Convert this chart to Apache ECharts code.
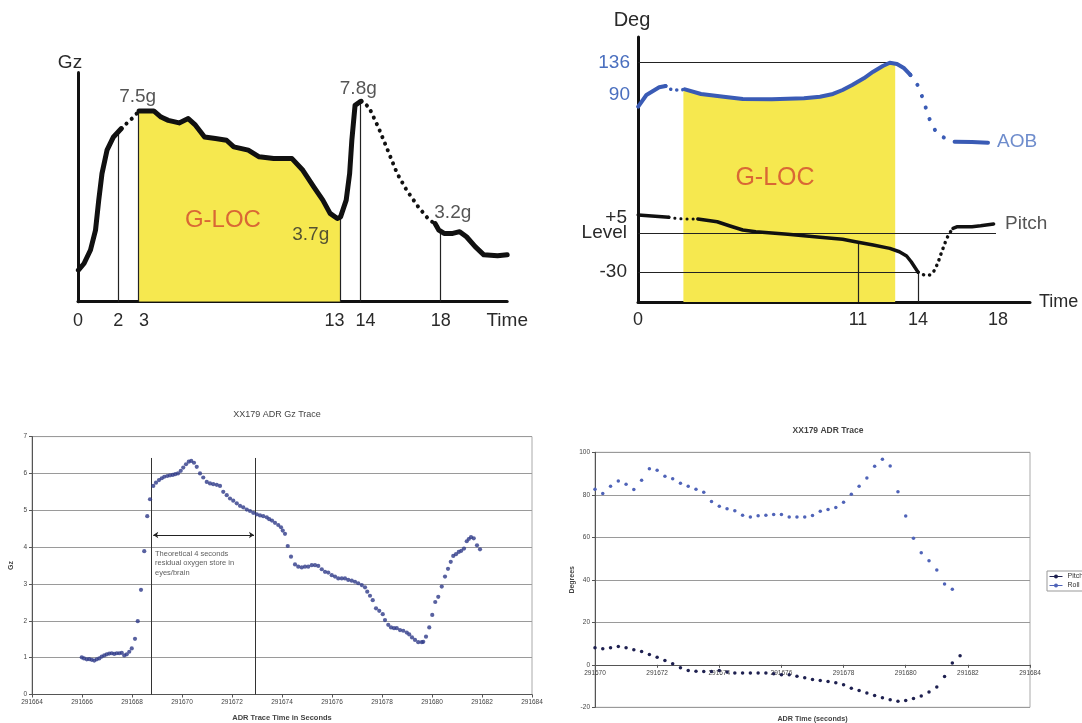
<!DOCTYPE html>
<html><head><meta charset="utf-8"><title>G-LOC traces</title>
<script src="https://cdn.jsdelivr.net/npm/echarts@6.0.0/dist/echarts.min.js"></script>
<style>html,body{margin:0;padding:0;background:#fff;}#chart{width:1082px;height:723px;}</style>
</head><body><div id="chart"></div>
<script>
// ================= DATA =================
// Panel 1 : schematic Gz vs time
const p1Ticks = [0, 2, 3, 13, 14, 18];
const gzRise = [[0.02,1.24],[0.30,1.5],[0.62,2.03],[0.87,2.81],[1.03,3.99],[1.19,5.03],[1.44,5.95],[1.76,6.47],[2.15,6.8]];
const gzGap1 = [[2.15,6.8],[2.44,7.02],[2.73,7.23],[3.03,7.49]];
const gzMain = [[3.03,7.49],[3.76,7.49],[4.12,7.25],[4.48,7.12],[5.02,7.02],[5.47,7.19],[5.83,6.93],[6.28,6.47],[6.82,6.41],[7.37,6.34],[7.73,6.08],[8.45,5.95],[8.99,5.69],[9.71,5.62],[10.62,5.62],[11.16,5.16],[11.7,4.51],[12.15,3.99],[12.51,3.47],[12.87,3.27],[13.03,3.33],[13.31,3.99],[13.48,5.03],[13.59,6.34],[13.75,7.71],[13.98,7.84],[14.05,7.87]];
const gzGap2 = [[14.05,7.87],[14.43,7.65],[14.9,6.86],[15.37,5.95],[15.84,5.03],[16.31,4.38],[16.88,3.73],[17.44,3.2],[17.72,3.07]];
const gzTail = [[17.72,3.07],[17.91,2.81],[18.17,2.68],[18.6,2.68],[18.94,2.75],[19.28,2.55],[19.71,2.16],[20.14,1.84],[20.82,1.8],[21.3,1.84]];
const p1Marks = [[2,6.65],[3,7.49],[13,3.33],[14,7.85],[18,2.75]];
const p1Notes = [['7.5g',2.96,8.04],['7.8g',13.91,8.37],['3.7g',11.55,2.62],['3.2g',18.6,3.48]];
const p1Gloc = [['G-LOC',7.19,3.2]];

// Panel 2 : schematic AOB / pitch vs time
const p2Ticks = [0, 11, 14, 18];
const aobTicks = [90, 136];
const pitchTicks = [-30, 0];          // 0 is shown as "+5 / Level"
const aobStart = [[0.01,72.8],[0.42,89.6],[1.06,100.7],[1.38,102.6]];
const aobGap1 = [[1.38,102.6],[1.62,97.8],[1.87,96.8],[2.11,96.8],[2.35,97.8]];
const aobMain = [[2.35,97.8],[3.15,91.1],[4.28,87.2],[5.24,83.9],[6.69,83.4],[8.3,84.9],[9.1,87.2],[9.75,91.1],[10.23,96.8],[10.71,104],[11.29,113.6],[11.76,123.1],[12.24,131.3],[12.59,136],[12.95,134.2],[13.31,128],[13.62,118.4]];
const aobGap2 = [[13.62,118.4],[14.01,102.6],[14.3,80],[14.52,58.4],[14.93,34.6],[15.51,24.9],[15.83,22.5]];
const aobTail = [[15.83,22.5],[16.7,22],[17.5,21]];
const p2FillEdges = [[2.27,97.8],[12.86,134.5]];
const pitchStart = [[0.01,14],[1.54,12.2]];
const pitchGap1 = [[1.54,12.2],[1.87,11.4],[2.27,10.9],[2.67,10.9],[2.99,10.9]];
const pitchMain = [[2.99,10.9],[3.96,8.8],[4.6,5.5],[5.24,2.4],[5.89,1.1],[7.49,-0.9],[9.1,-3.2],[10.23,-4.7],[10.87,-6.6],[11.76,-9.1],[12.59,-11.7],[13.07,-14.3],[13.43,-17.6],[13.66,-22],[14.0,-30]];
const pitchGap2 = [[14.0,-30],[14.3,-32.2],[14.6,-32.2],[14.81,-28.9],[14.99,-23.2],[15.13,-16.8],[15.27,-10.9],[15.42,-4.7],[15.57,-0.1],[15.75,3.7]];
const pitchTail = [[15.75,3.7],[15.97,5],[16.7,5],[17.13,5.7],[17.78,7]];
const p2AobRefs = [[[0,136],[12.59,136]]];
const p2PitchRefs = [[[0,0],[17.9,0]],[[0,-30],[14,-30]],[[11,-53],[11,-7.2]],[[14,-53],[14,-30]]];
const p2AobNote = [['AOB',17.95,22]];
const p2PitchNote = [['Pitch',18.35,7.05]];
const p2Gloc = [['G-LOC',6.85,42.5]];

// Panel 3 : XX179 ADR Gz Trace (time s, Gz)
const gzTrace = [[291665.99,1.01],[291666.08,0.98],[291666.19,0.955],[291666.29,0.96],[291666.39,0.94],[291666.49,0.92],[291666.59,0.955],[291666.69,0.98],[291666.79,1.03],[291666.89,1.06],[291666.99,1.09],[291667.09,1.11],[291667.19,1.12],[291667.29,1.10],[291667.39,1.12],[291667.49,1.12],[291667.59,1.13],[291667.69,1.06],[291667.79,1.09],[291667.89,1.16],[291667.99,1.25],[291668.12,1.51],[291668.23,1.99],[291668.36,2.84],[291668.49,3.89],[291668.61,4.84],[291668.72,5.3],
 [291668.85,5.66],[291668.96,5.75],[291669.08,5.82],[291669.19,5.87],[291669.29,5.91],[291669.41,5.93],[291669.52,5.95],[291669.63,5.96],[291669.73,5.98],[291669.84,6.0],[291669.95,6.07],[291670.05,6.16],[291670.16,6.25],[291670.27,6.32],[291670.37,6.34],[291670.48,6.29],[291670.59,6.18],[291670.72,6.0],[291670.85,5.89],[291670.99,5.77],[291671.12,5.73],[291671.25,5.71],[291671.39,5.69],[291671.52,5.66],[291671.65,5.5],[291671.79,5.41],[291671.92,5.32],[291672.05,5.26],[291672.19,5.19],[291672.32,5.12],[291672.45,5.08],[291672.59,5.02],[291672.72,4.98],[291672.85,4.93],[291672.99,4.89],
 [291673.12,4.86],[291673.25,4.84],[291673.39,4.81],[291673.49,4.76],[291673.6,4.72],[291673.72,4.66],[291673.85,4.6],[291673.96,4.54],[291674.03,4.45],[291674.12,4.36],[291674.23,4.03],[291674.36,3.74],[291674.52,3.53],[291674.65,3.47],[291674.79,3.45],[291674.92,3.47],[291675.05,3.47],[291675.19,3.51],[291675.32,3.51],[291675.45,3.49],[291675.59,3.4],[291675.72,3.33],[291675.85,3.31],[291675.99,3.24],[291676.12,3.2],[291676.25,3.15],[291676.39,3.15],[291676.52,3.15],[291676.65,3.11],[291676.79,3.09],[291676.92,3.06],[291677.05,3.02],[291677.19,2.97],[291677.32,2.91],[291677.41,2.79],[291677.52,2.68],
 [291677.63,2.56],[291677.76,2.34],[291677.89,2.27],[291678.03,2.18],[291678.12,2.02],[291678.25,1.89],[291678.36,1.82],[291678.48,1.8],[291678.59,1.8],[291678.72,1.75],[291678.85,1.73],[291678.99,1.68],[291679.09,1.63],[291679.2,1.55],[291679.32,1.48],[291679.45,1.42],[291679.59,1.42],[291679.65,1.43],[291679.76,1.57],[291679.89,1.82],[291680.01,2.16],[291680.13,2.51],[291680.25,2.65],[291680.39,2.93],[291680.52,3.2],[291680.64,3.41],[291680.75,3.6],[291680.85,3.76],[291680.96,3.81],[291681.07,3.87],[291681.17,3.9],[291681.28,3.96],[291681.39,4.16],[291681.47,4.22],[291681.56,4.27],[291681.67,4.24],[291681.8,4.05],[291681.92,3.94]];
const blWindow = [291668.75, 291672.92, 6.42];
const blArrow = [291668.85, 291672.88, 4.33];
const blNote = [['Theoretical 4 seconds\nresidual oxygen store in\neyes/brain', 291668.92, 3.94]];

// Panel 4 : XX179 ADR Trace (pitch & roll, degrees)
const adrTime = [291670,291670.25,291670.5,291670.75,291671,291671.25,291671.5,291671.75,291672,291672.25,291672.5,291672.75,291673,291673.25,291673.5,291673.75,291674,291674.25,291674.5,291674.75,291675,291675.25,291675.5,291675.75,291676,291676.25,291676.5,291676.75,291677,291677.25,291677.5,291677.75,291678,291678.25,291678.5,291678.75,291679,291679.25,291679.5,291679.75,291680,291680.25,291680.5,291680.75,291681,291681.25,291681.5,291681.75];
const pitchDeg = [8.0,7.5,8.0,8.6,8.0,7.1,6.3,4.9,3.6,2.0,0.5,-1.4,-2.7,-3.0,-3.1,-3.1,-2.7,-3.4,-3.8,-3.9,-3.9,-3.9,-3.9,-4.2,-4.7,-4.7,-5.4,-6.1,-6.9,-7.4,-7.8,-8.5,-9.4,-11.0,-12.1,-13.3,-14.4,-15.5,-16.4,-17.1,-16.8,-15.9,-14.7,-12.8,-10.5,-5.5,0.8,4.3];
const rollDeg = [82.6,80.6,84,86.5,85,82.5,86.9,92.3,91.5,88.7,87.5,85.4,84,82.6,81.2,76.8,74.6,73.4,72.5,70.4,69.6,70.1,70.4,70.7,70.7,69.6,69.6,69.6,70.3,72.3,73.1,74,76.5,80.3,84,87.9,93.4,96.7,93.6,81.4,70,59.6,52.7,49,44.6,38,35.5];

// ================= CHART =================
const FONT = '"Liberation Sans", Arial, Helvetica, sans-serif';
const INK = '#111', TXT = '#2a2a2a', YEL = '#f6e84f', RED = '#d2462e', BLUE = '#3a5bb5', BLUET = '#4a6fbf';
const DOTS = [0.1, 7], SPARSE = [0.1, 12];

function path(data, xi, yi, color, width, dash) {
  return {type:'line', xAxisIndex:xi, yAxisIndex:yi, data:data, symbol:'none', silent:true, animation:false, z:5,
    lineStyle:{color:color, width:width, type:dash || 'solid', cap:'round', join:'round'}};
}
function area(data, xi, yi) {
  return {type:'line', xAxisIndex:xi, yAxisIndex:yi, data:data, symbol:'none', silent:true, animation:false, z:1,
    lineStyle:{width:0, opacity:0}, areaStyle:{color:YEL, opacity:1, origin:'start'}};
}
function rules(segs, xi, yi, color, width, extra) {
  return Object.assign({type:'lines', coordinateSystem:'cartesian2d', xAxisIndex:xi, yAxisIndex:yi, silent:true,
    animation:false, z:3, lineStyle:{color:color, width:width, opacity:1}, data:segs.map(s => ({coords:s}))}, extra || {});
}
function notes(items, xi, yi, style) {
  return {type:'scatter', xAxisIndex:xi, yAxisIndex:yi, symbolSize:0, silent:true, animation:false, z:10,
    data:items.map(n => ({value:[n[1], n[2]], name:n[0]})),
    label:Object.assign({show:true, formatter:p => p.name, position:[0,0], fontFamily:FONT}, style)};
}
const big = {fontSize:19, color:TXT, align:'center', verticalAlign:'middle'};

const gzFill = gzMain.filter(p => p[0] <= 13.03);
const aobFill = [p2FillEdges[0]].concat(aobMain.filter(p => p[0] > p2FillEdges[0][0] && p[0] < p2FillEdges[1][0]), [p2FillEdges[1]]);
const pitchSeries = adrTime.map((t, i) => [t, pitchDeg[i]]);
const rollSeries = rollDeg.map((v, i) => [adrTime[i], v]);

const small = {fontSize:6.5, color:'#444', fontFamily:FONT};
const thickAxis = {show:true, onZero:false, lineStyle:{color:INK, width:3}};
const tickRich = {fontSize:18, color:TXT, fontFamily:FONT};
// height of the bottom-right plot and its y range, used to sit its x axis on the 0 degree line
const BR_H = 255, BR_MIN = -20, BR_MAX = 100;

const option = {
  animation:false,
  backgroundColor:'#fff',
  textStyle:{fontFamily:FONT},
  title:[
    {text:'XX179 ADR Gz Trace', left:272, top:405, textAlign:'center', textStyle:{fontSize:9, fontWeight:'normal', color:'#444', fontFamily:FONT}},
    {text:'XX179 ADR Trace', left:823, top:421, textAlign:'center', textStyle:{fontSize:8.5, fontWeight:'bold', color:'#444', fontFamily:FONT}}
  ],
  legend:{data:['Pitch','Roll'], orient:'vertical', left:1047, top:571, itemWidth:13, itemHeight:5, itemGap:2,
    padding:[2,2,2,2], borderColor:'#999', borderWidth:1, selectedMode:false,
    textStyle:{fontSize:7, color:'#333', fontFamily:FONT}, lineStyle:{opacity:1, width:1}},
  grid:[
    {left:78, top:72.5, width:429.2, height:229.2, outerBoundsMode:'none'},
    {left:638, top:37, width:392, height:265, outerBoundsMode:'none'},
    {left:32, top:436.6, width:500, height:257.9, show:true, borderColor:'#aaa', borderWidth:1, outerBoundsMode:'none'},
    {left:595, top:452.3, width:435, height:BR_H, show:true, borderColor:'#aaa', borderWidth:1, outerBoundsMode:'none'}
  ],
  xAxis:[
    {gridIndex:0, type:'value', min:0, max:21.3, axisLine:thickAxis, axisTick:{show:false}, splitLine:{show:false},
      axisLabel:{customValues:p1Ticks, fontSize:18, color:TXT, margin:10, fontFamily:FONT, hideOverlap:false,
        formatter:v => v === 3 ? '{r|3}' : v === 13 ? '{l|13}' : v === 14 ? '{r|14}' : String(v),
        rich:{r:Object.assign({padding:[0,0,0,11]}, tickRich), l:Object.assign({padding:[0,11,0,0]}, tickRich)}},
      name:'Time', nameLocation:'end', nameGap:0,
      nameTextStyle:{fontSize:19, color:TXT, align:'center', verticalAlign:'top', padding:[10,0,0,0], fontFamily:FONT}},
    {gridIndex:1, type:'value', min:0, max:19.6, axisLine:thickAxis, axisTick:{show:false}, splitLine:{show:false},
      axisLabel:{customValues:p2Ticks, fontSize:18, color:TXT, margin:9, fontFamily:FONT, hideOverlap:false},
      name:'Time', nameLocation:'end', nameGap:9,
      nameTextStyle:{fontSize:18, color:TXT, fontFamily:FONT}},
    {gridIndex:2, type:'value', min:291664, max:291684, interval:2,
      axisLine:{onZero:false, lineStyle:{color:'#555', width:1}}, axisTick:{show:true, length:3, lineStyle:{color:'#555'}},
      splitLine:{show:false}, axisLabel:Object.assign({margin:4, formatter:v => String(v)}, small),
      name:'ADR Trace Time in Seconds', nameLocation:'middle', nameGap:19,
      nameTextStyle:{fontSize:7.5, fontWeight:'bold', color:'#444', fontFamily:FONT}},
    {gridIndex:3, type:'value', min:291670, max:291684, interval:2, position:'bottom',
      offset:-BR_H * (0 - BR_MIN) / (BR_MAX - BR_MIN),
      axisLine:{onZero:false, lineStyle:{color:'#555', width:1}}, axisTick:{show:true, length:3, lineStyle:{color:'#555'}},
      splitLine:{show:false}, axisLabel:Object.assign({margin:5, formatter:v => String(v)}, small),
      name:'ADR Time (seconds)', nameLocation:'middle', nameGap:51, nameMoveOverlap:false,
      nameTextStyle:{fontSize:7.2, fontWeight:'bold', color:'#444', fontFamily:FONT}}
  ],
  yAxis:[
    {gridIndex:0, type:'value', min:0, max:9, axisLine:thickAxis, axisTick:{show:false}, splitLine:{show:false}, axisLabel:{show:false},
      name:'Gz', nameLocation:'end', nameGap:0,
      nameTextStyle:{fontSize:19, color:TXT, align:'center', padding:[0,16,0,0], fontFamily:FONT}},
    {gridIndex:1, type:'value', position:'left', min:-208, max:173, axisLine:thickAxis, axisTick:{show:false}, splitLine:{show:false},
      axisLabel:{customValues:aobTicks, fontSize:19, color:BLUET, margin:8, fontFamily:FONT, hideOverlap:false},
      name:'Deg', nameLocation:'end', nameGap:7,
      nameTextStyle:{fontSize:20, color:TXT, align:'center', padding:[0,12,0,0], fontFamily:FONT}},
    {gridIndex:1, type:'value', position:'left', offset:0, min:-53, max:151, axisLine:{show:false}, axisTick:{show:false}, splitLine:{show:false},
      axisLabel:{customValues:pitchTicks, fontSize:19, color:TXT, margin:11, fontFamily:FONT, hideOverlap:false,
        formatter:v => v === 0 ? '{a|+5}\n{a|Level}\n{a| }' : String(v),
        rich:{a:{fontSize:19, lineHeight:15.5, color:TXT, fontFamily:FONT, align:'right'}}}},
    {gridIndex:2, type:'value', min:0, max:7, interval:1,
      axisLine:{show:true, lineStyle:{color:'#555', width:1}}, axisTick:{show:true, length:3, lineStyle:{color:'#555'}},
      splitLine:{show:true, lineStyle:{color:'#9a9a9a', width:1}}, axisLabel:Object.assign({margin:5}, small),
      name:'Gz', nameLocation:'middle', nameGap:17,
      nameTextStyle:{fontSize:7, fontWeight:'bold', color:'#444', fontFamily:FONT}},
    {gridIndex:3, type:'value', min:BR_MIN, max:BR_MAX, interval:20,
      axisLine:{show:true, lineStyle:{color:'#555', width:1}}, axisTick:{show:true, length:3, lineStyle:{color:'#555'}},
      splitLine:{show:true, lineStyle:{color:'#9a9a9a', width:1}}, axisLabel:Object.assign({margin:5}, small),
      name:'Degrees', nameLocation:'middle', nameGap:19,
      nameTextStyle:{fontSize:7, fontWeight:'bold', color:'#444', fontFamily:FONT}}
  ],
  series:[
    // panel 1
    area(gzFill, 0, 0),
    rules(p1Marks.map(m => [[m[0], 0], [m[0], m[1]]]), 0, 0, '#222', 1.2),
    path(gzRise, 0, 0, INK, 5),
    path(gzGap1, 0, 0, INK, 4, DOTS),
    path(gzMain, 0, 0, INK, 5),
    path(gzGap2, 0, 0, INK, 4, DOTS),
    path(gzTail, 0, 0, INK, 5),
    notes(p1Notes, 0, 0, big),
    notes(p1Gloc, 0, 0, {fontSize:24, color:RED, align:'center', verticalAlign:'middle'}),
    // panel 2
    area(aobFill, 1, 1),
    rules(p2AobRefs, 1, 1, '#222', 1.2),
    rules(p2PitchRefs, 1, 2, '#222', 1.2),
    path(aobStart, 1, 1, BLUE, 4),
    path(aobGap1, 1, 1, BLUE, 3.5, [0.1, 6]),
    path(aobMain, 1, 1, BLUE, 4),
    path(aobGap2, 1, 1, BLUE, 4, SPARSE),
    path(aobTail, 1, 1, BLUE, 4),
    path(pitchStart, 1, 2, INK, 3.5),
    path(pitchGap1, 1, 2, INK, 3, [0.1, 6]),
    path(pitchMain, 1, 2, INK, 3.5),
    path(pitchGap2, 1, 2, INK, 3.5, [0.1, 6]),
    path(pitchTail, 1, 2, INK, 3.5),
    notes(p2AobNote, 1, 1, {fontSize:19, color:BLUET, align:'left', verticalAlign:'middle'}),
    notes(p2PitchNote, 1, 2, {fontSize:19, color:TXT, align:'left', verticalAlign:'middle'}),
    notes(p2Gloc, 1, 2, {fontSize:25, color:RED, align:'center', verticalAlign:'middle'}),
    // panel 3
    rules([[[blWindow[0], 0], [blWindow[0], blWindow[2]]], [[blWindow[1], 0], [blWindow[1], blWindow[2]]]], 2, 3, '#333', 1),
    rules([[[blArrow[0], blArrow[2]], [blArrow[1], blArrow[2]]]], 2, 3, '#222', 1, {symbol:['arrow','arrow'], symbolSize:5}),
    {type:'scatter', xAxisIndex:2, yAxisIndex:3, data:gzTrace, symbolSize:4.2, itemStyle:{color:'#2e3a88'}, silent:true, animation:false, z:4},
    notes(blNote, 2, 3, {fontSize:7.5, lineHeight:9.3, color:'#333', align:'left', verticalAlign:'top'}),
    // panel 4
    {type:'line', name:'Pitch', xAxisIndex:3, yAxisIndex:4, data:pitchSeries, symbol:'circle', symbolSize:3.5, showSymbol:true, showAllSymbol:true,
      itemStyle:{color:'#1e2050'}, lineStyle:{color:'#1e2050', opacity:0, width:1}, silent:true, animation:false, z:4},
    {type:'line', name:'Roll', xAxisIndex:3, yAxisIndex:4, data:rollSeries, symbol:'circle', symbolSize:3.5, showSymbol:true, showAllSymbol:true,
      itemStyle:{color:'#4f63b8'}, lineStyle:{color:'#4f63b8', opacity:0, width:1}, silent:true, animation:false, z:4}
  ]
};
const chart = echarts.init(document.getElementById('chart'));
chart.setOption(option);
</script></body></html>
